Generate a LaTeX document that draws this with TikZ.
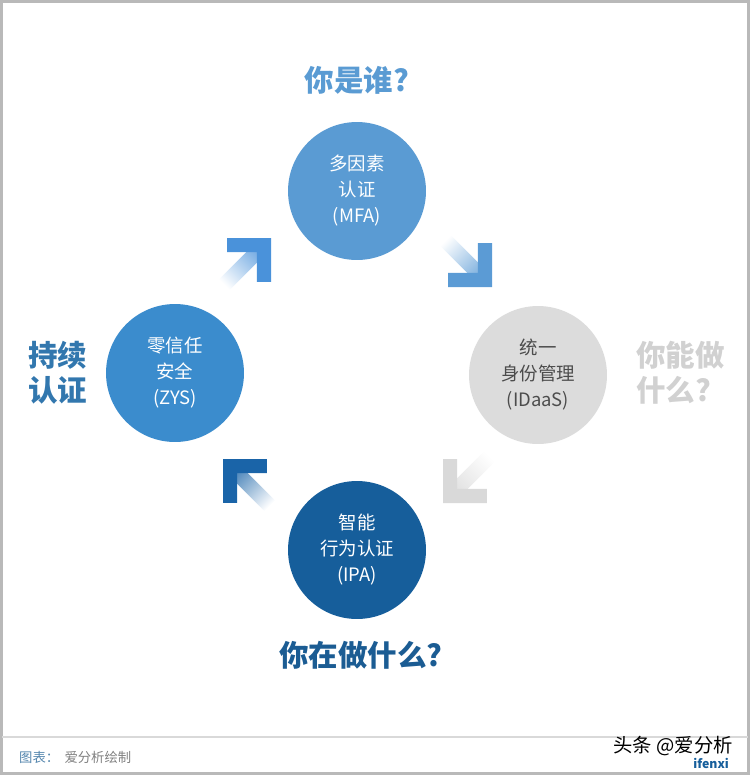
\documentclass[tikz,border=0pt]{standalone}
\usepackage{fontspec}
\setmainfont{Noto Sans CJK SC}
\definecolor{mfablue}{HTML}{5A9BD3}
\definecolor{zysblue}{HTML}{3B8CCD}
\definecolor{idgrey}{HTML}{DCDCDC}
\definecolor{ipablue}{HTML}{165E9B}
\definecolor{titleblue}{HTML}{1B5C93}
\definecolor{arrUL}{HTML}{4A92DA}
\definecolor{arrUR}{HTML}{5B9BD5}
\definecolor{arrLR}{HTML}{D9D9D9}
\definecolor{arrLL}{HTML}{1A64A8}
\tikzset{
  stage/.style={circle,minimum size=2.76cm,inner sep=0pt,align=center,
    font=\fontsize{10.5}{14.8}\selectfont,text=white},
  question/.style={font=\fontsize{16.8}{20}\selectfont\bfseries,align=left}
}
\begin{document}
\begin{tikzpicture}[x=0.02cm,y=-0.02cm]
  \useasboundingbox (0,0) rectangle (750,775);
  % frame and footer rule
  \draw[gray!55,line width=0.05cm] (1.5,1.5) rectangle (748.5,773.5);
  \draw[gray!30,line width=0.04cm] (2,737) -- (748,737);
  % the four stages
  \node[stage,fill=mfablue] (mfa) at (357,191) {多因素\\认证\\(MFA)};
  \node[stage,fill=idgrey,text=black!70] (idaas) at (538,375) {统一\\身份管理\\(IDaaS)};
  \node[stage,fill=ipablue] (ipa) at (357,550) {智能\\行为认证\\(IPA)};
  \node[stage,fill=zysblue] (zys) at (175,373) {零信任\\安全\\(ZYS)};
  % questions round the cycle
  \node[question,text=mfablue] (who) at (357,80) {你是谁?};
  \node[question,text=black!18,anchor=west] (can) at (630,373) {你能做\\什么?};
  \node[question,text=titleblue] (doing) at (361,655) {你在做什么?};
  \node[question,text=zysblue!85!black,anchor=west] (cont) at (22,373) {持续\\认证};
  % chevron arrows between stages
  \foreach \px/\py/\ang/\col in {271/238/45/arrUL,492/287/-45/arrUR,443/503/-135/arrLR,223/459/135/arrLL}{
    \begin{scope}[transform canvas={shift={(\px,\py)},rotate=\ang}]
      \shade[left color=white,right color=\col!85] (-66,-7.5) rectangle (-14,7.5);
      \fill[\col] (0,0) -- (-31,31) -- (-41,21) -- (-20,0)
        -- (-41,-21) -- (-31,-31) -- cycle;
    \end{scope}
  }
  % footer
  \node[anchor=west,font=\fontsize{7.6}{9}\selectfont,text=gray] (src) at (13,757)
    {\textcolor{zysblue!60!gray}{图表：}\hspace{3pt}爱分析绘制};
  \node[anchor=east,font=\fontsize{7}{8}\selectfont\bfseries,text=ipablue] (logo) at (735,763) {ifenxi};
  \node[anchor=east,font=\fontsize{11}{12}\selectfont,text=black] (mark) at (739,746) {头条 @爱分析};
\end{tikzpicture}
\end{document}
